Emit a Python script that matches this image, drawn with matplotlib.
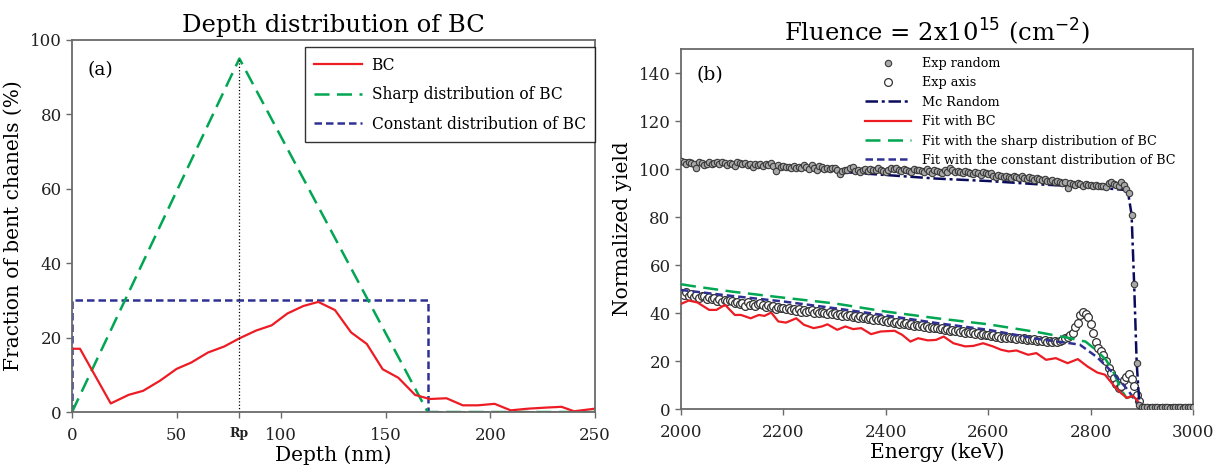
import matplotlib.pyplot as plt
import numpy as np

plt.rcParams["font.family"] = ["DejaVu Serif"]

# ---- panel (a): depth distribution of BC ----
bc_depth = [0, 3.8, 18.5, 27, 34, 42, 50, 57, 65, 72.7, 80, 88, 95.4, 103, 110.6, 117.7,
            125.7, 133.4, 140.9, 148.5, 156, 164, 171, 179, 186.8, 194, 202, 209.7, 218,
            227, 234, 240, 250]
bc_frac = [17.0, 17.0, 2.3, 4.6, 5.7, 8.4, 11.6, 13.3, 16.0, 17.6, 19.8, 21.9, 23.3, 26.5,
           28.5, 29.6, 27.4, 21.4, 18.3, 11.5, 9.2, 4.6, 3.5, 3.7, 1.8, 1.8, 2.2, 0.45, 0.9,
           1.2, 1.4, 0.2, 0.9]
sharp_depth = [0, 80, 170, 250]
sharp_frac = [0, 95, 0, 0]
const_depth = [0, 0, 170, 170, 250]
const_frac = [0, 30, 30, 0, 0]
rp_depth = 80
rp_top = 95

# ---- panel (b): RBS spectra ----
energy = np.arange(2000, 3001, 5)
exp_random = [
    103.5, 102.8, 102.3, 103.0, 102.6, 102.0, 100.6, 102.9, 102.4, 101.6, 102.2, 102.8, 102.1, 102.5, 102.9, 102.3, 103.0, 102.4, 101.8, 102.6,
    102.0, 101.1, 103.0, 102.4, 101.9, 102.6, 101.5, 102.1, 101.0, 102.3, 101.7, 102.2, 101.4, 102.0, 101.5, 102.7, 101.2, 99.3, 101.6, 100.9,
    101.3, 100.8, 101.0, 100.5, 101.2, 100.6, 100.9, 100.3, 101.5, 101.0, 100.2, 101.6, 100.4, 99.8, 101.2, 100.7, 99.9, 100.3, 100.1, 100.6,
    100.4, 99.6, 98.1, 99.2, 99.8, 99.5, 100.6, 100.9, 99.0, 99.6, 98.8, 99.4, 100.2, 99.3, 100.0, 99.5, 99.8, 100.4, 99.6, 99.1,
    98.8, 99.4, 100.6, 99.9, 100.3, 99.6, 99.2, 100.1, 99.8, 99.3, 98.9, 100.2, 99.7, 99.5, 99.1, 98.7, 99.9, 99.3, 98.5, 99.6,
    99.2, 98.8, 98.5, 99.4, 98.9, 100.5, 99.6, 98.7, 99.3, 98.9, 98.4, 99.0, 98.6, 98.2, 97.9, 98.8, 98.3, 97.6, 98.9, 98.2,
    97.8, 98.5, 97.2, 96.8, 97.4, 96.9, 96.5, 97.2, 96.8, 96.3, 97.0, 96.6, 96.1, 96.9, 96.4, 95.8, 96.5, 96.2, 95.6, 96.3,
    96.0, 95.4, 95.8, 95.1, 94.9, 95.6, 94.7, 95.2, 94.5, 94.1, 94.8, 92.2, 94.3, 93.8, 93.5, 94.2, 93.6, 93.1, 93.8, 93.2,
    93.4, 92.9, 93.3, 93.0, 92.8, 93.1, 92.6, 94.2, 94.6, 93.9, 93.2, 92.8, 94.5, 93.4, 91.5, 90.0, 81.0, 52.0, 19.0,
    1.5, 0.9, 0.7, 0.8, 0.6, 0.9, 0.7, 0.8, 0.6, 0.8, 0.7, 0.9, 0.6, 0.8, 0.7, 0.8, 0.9, 0.6, 0.8, 0.7, 0.8, 0.7,
]
exp_axis = [
    48.5, 47.6, 48.8, 47.2, 47.9, 46.8, 47.5, 46.4, 47.1, 46.9, 45.8, 46.6, 45.9, 46.3, 45.2, 45.8, 44.7, 45.4, 44.9, 45.5,
    45.1, 44.3, 44.8, 43.6, 44.2, 43.0, 44.5, 43.4, 43.9, 42.8, 43.7, 44.1, 43.2, 42.6, 43.4, 42.5, 42.9, 41.8, 42.6, 42.1,
    42.3, 41.6, 42.0, 41.2, 41.8, 40.9, 41.5, 40.6, 41.2, 40.4, 40.9, 41.3, 40.2, 40.7, 39.9, 40.5, 40.1, 39.6, 40.3, 39.8,
    40.0, 39.3, 39.8, 38.9, 39.5, 38.6, 39.2, 38.3, 38.9, 38.1, 38.7, 37.8, 38.4, 37.5, 38.0, 37.2, 37.8, 36.9, 37.4, 36.6,
    36.9, 36.3, 36.8, 35.9, 36.4, 35.6, 36.1, 35.3, 35.8, 35.0, 35.5, 34.8, 35.2, 34.5, 34.9, 34.2, 34.6, 33.9, 34.3, 33.7,
    33.9, 33.4, 33.8, 33.0, 33.5, 32.7, 33.1, 32.4, 32.8, 32.0, 32.5, 31.8, 32.2, 31.5, 31.9, 31.2, 31.6, 30.9, 31.3, 30.7,
    30.9, 30.4, 30.8, 30.1, 30.5, 29.8, 30.2, 29.6, 30.0, 29.4, 29.8, 29.2, 29.6, 29.0, 29.4, 28.8, 29.2, 28.6, 29.0, 28.5,
    28.7, 28.2, 28.6, 28.0, 28.4, 27.8, 28.3, 28.0, 28.5, 28.9, 29.4, 30.2, 31.0, 31.6, 34.0, 35.8, 39.2, 40.3, 39.8, 38.5,
    35.5, 31.8, 28.0, 25.6, 24.0, 22.5, 20.0, 17.3, 15.0, 13.0, 10.6, 8.8, 9.5, 12.0, 13.2, 14.8, 12.6, 9.5, 6.0, 3.2, 0.6,
    0.5, 0.6, 0.4, 0.5, 0.6, 0.5, 0.4, 0.6, 0.5, 0.5, 0.6, 0.4, 0.5, 0.6, 0.5, 0.4, 0.5, 0.6, 0.5, 0.5,
]
mc_energy = [2000, 2100, 2200, 2300, 2400, 2500, 2600, 2700, 2800, 2866, 2873, 2880, 2885, 2890, 2895, 2900, 3000]
mc_random = [103.8, 101.8, 100.5, 99.0, 97.5, 96.0, 95.0, 93.6, 92.5, 91.3, 90.3, 81.0, 52.0, 19.0, 3.0, 0.5, 0.5]

fit_bc_energy = [2000, 2015, 2032, 2055, 2069, 2086, 2105, 2117, 2136, 2152, 2163, 2176, 2190, 2205,
                 2225, 2240, 2259, 2275, 2286, 2305, 2321, 2336, 2352, 2371, 2390, 2417, 2432, 2448,
                 2463, 2482, 2498, 2513, 2532, 2555, 2571, 2590, 2609, 2625, 2640, 2655, 2678, 2694,
                 2713, 2732, 2755, 2775, 2794, 2813, 2828, 2844, 2859, 2871, 2882, 2890, 2900, 3000]
fit_bc = [43.8, 45.2, 44.4, 41.3, 41.3, 43.4, 39.2, 39.2, 37.8, 39.2, 38.8, 40.2, 36.5, 36.0,
          37.8, 35.1, 33.7, 34.4, 35.3, 33.0, 34.4, 33.3, 33.7, 31.2, 32.3, 32.6, 30.9, 28.1,
          29.5, 28.6, 28.8, 30.2, 27.4, 26.1, 26.3, 27.4, 26.1, 24.7, 24.0, 24.4, 22.6, 23.3,
          20.5, 21.2, 19.1, 20.8, 17.7, 15.2, 14.3, 10.1, 6.7, 4.6, 5.5, 3.9, 0.8, 0.5]
fit_sharp_energy = [2000, 2020, 2100, 2200, 2300, 2400, 2500, 2600, 2700, 2760, 2790, 2810, 2830,
                    2845, 2860, 2870, 2880, 2888, 2900, 3000]
fit_sharp = [52.0, 51.3, 48.9, 46.4, 44.0, 40.6, 37.8, 35.3, 31.9, 29.5, 28.1, 24.7, 20.5,
             15.2, 8.0, 4.6, 5.3, 3.9, 0.8, 0.5]
fit_const_energy = [2000, 2100, 2200, 2300, 2400, 2500, 2600, 2700, 2760, 2779, 2812, 2844, 2870,
                    2890, 2900, 3000]
fit_const = [49.6, 47.1, 44.8, 42.0, 39.0, 35.8, 33.0, 29.1, 27.4, 26.8, 21.7, 15.0, 8.6,
             3.0, 0.5, 0.5]

# styling
C_RED = "#ed1c24"
C_GREEN = "#00a651"
C_BLUE = "#2e3192"
C_NAVY = "#0b0b5e"
C_SPINE = "#6a6a6a"
TICK_FS = 12
LABEL_FS = 14.5
TITLE_FS = 17.5

fig = plt.figure(figsize=(12.17, 4.75), dpi=100)
ax1 = fig.add_axes([0.0592, 0.1326, 0.4297, 0.7832])
ax2 = fig.add_axes([0.5596, 0.1389, 0.4207, 0.7579])

# panel (a)
ax1.plot(const_depth, const_frac, color=C_BLUE, linestyle=(0, (3, 1.6)), linewidth=1.8,
         label="Constant distribution of BC")
ax1.plot(sharp_depth, sharp_frac, color=C_GREEN, linestyle=(0, (6, 3)), linewidth=1.8,
         label="Sharp distribution of BC")
ax1.plot(bc_depth, bc_frac, color=C_RED, linewidth=1.6, label="BC")
ax1.plot([rp_depth, rp_depth], [0, rp_top], color="black", linestyle=":", linewidth=0.9)

ax1.set_xlim(0, 250)
ax1.set_ylim(0, 100)
ax1.set_xticks([0, 50, rp_depth, 100, 150, 200, 250])
ax1.set_xticklabels(["0", "50", "Rp", "100", "150", "200", "250"])
ax1.set_yticks(range(0, 101, 20))
ax1.set_xlabel("Depth (nm)", fontsize=LABEL_FS, labelpad=1)
ax1.set_ylabel("Fraction of bent chanels (%)", fontsize=LABEL_FS, labelpad=5)
ax1.set_title("Depth distribution of BC", fontsize=TITLE_FS, pad=6)
ax1.text(0.03, 0.919, "(a)", transform=ax1.transAxes, fontsize=13.5, ha="left", va="center")

h, l = ax1.get_legend_handles_labels()
order = [2, 1, 0]
ax1.legend([h[i] for i in order], [l[i] for i in order], loc="upper right",
           bbox_to_anchor=(1.0, 0.98), fontsize=11.2, frameon=True, fancybox=False,
           edgecolor="black", handlelength=3.1, handletextpad=0.6, labelspacing=0.8,
           borderpad=0.6, borderaxespad=0)
ax1.get_legend().get_frame().set_linewidth(1.0)

# panel (b)
ax2.plot(energy, exp_axis, linestyle="none", marker="o", markersize=5.6,
         markerfacecolor="white", markeredgecolor="#333333", markeredgewidth=0.9,
         label="Exp axis", zorder=2)
ax2.plot(fit_sharp_energy, fit_sharp, color=C_GREEN, linestyle=(0, (6, 3)), linewidth=1.8,
         label="Fit with the sharp distribution of BC", zorder=3)
ax2.plot(fit_const_energy, fit_const, color=C_BLUE, linestyle=(0, (3, 1.6)), linewidth=1.8,
         label="Fit with the constant distribution of BC", zorder=3)
ax2.plot(fit_bc_energy, fit_bc, color=C_RED, linewidth=1.6, label="Fit with BC", zorder=3)
ax2.plot(mc_energy, mc_random, color=C_NAVY, linestyle=(0, (5, 1.5, 1.2, 1.5)), linewidth=1.8,
         label="Mc Random", zorder=3)
ax2.plot(energy, exp_random, linestyle="none", marker="o", markersize=4.6,
         markerfacecolor="#a8a8a8", markeredgecolor="#3a3a3a", markeredgewidth=0.8,
         label="Exp random", zorder=4)

ax2.set_xlim(2000, 3000)
ax2.set_ylim(0, 150)
ax2.set_xticks(range(2000, 3001, 200))
ax2.set_yticks(range(0, 141, 20))
ax2.set_xlabel("Energy (keV)", fontsize=LABEL_FS, labelpad=1)
ax2.set_ylabel("Normalized yield", fontsize=LABEL_FS, labelpad=5)
ax2.set_title("Fluence = 2x10$^{15}$ (cm$^{-2}$)", fontsize=TITLE_FS, pad=6)
ax2.text(0.031, 0.928, "(b)", transform=ax2.transAxes, fontsize=13.5, ha="left", va="center")

h, l = ax2.get_legend_handles_labels()
order = [5, 0, 4, 3, 1, 2]
ax2.legend([h[i] for i in order], [l[i] for i in order], loc="upper left",
           bbox_to_anchor=(0.355, 0.985), fontsize=9.2, frameon=False,
           handlelength=3.6, handletextpad=0.8, labelspacing=0.5,
           borderpad=0.2, borderaxespad=0)

for ax in (ax1, ax2):
    for sp in ax.spines.values():
        sp.set_color(C_SPINE)
        sp.set_linewidth(1.3)
    ax.tick_params(axis="both", direction="out", length=4, width=1.0, color=C_SPINE,
                   labelsize=TICK_FS, labelcolor="#222222")
    ax.tick_params(axis="x", pad=7)

rp_label = ax1.get_xticklabels()[2]
rp_label.set_fontsize(9)
rp_label.set_fontweight("bold")

fig.savefig("out.png", dpi=100)
